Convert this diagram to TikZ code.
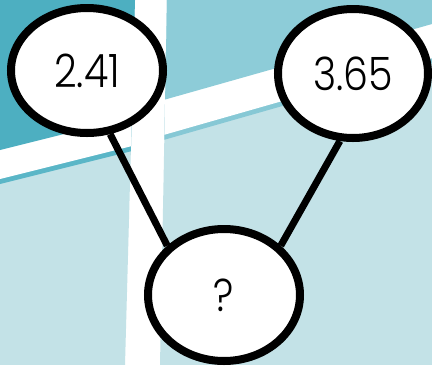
\documentclass[tikz,border=0pt]{standalone}
\usepackage{fontspec}
\setmainfont{Poppins Light}
\usetikzlibrary{shapes.geometric}
\pgfdeclarelayer{bg}
\pgfdeclarelayer{lines}
\pgfsetlayers{bg,lines,main}
\definecolor{darkteal}{HTML}{4DAFC1}
\definecolor{midteal}{HTML}{8DCCD8}
\definecolor{lightteal}{HTML}{C3E2E7}
\definecolor{stripeL}{HTML}{5AB6C7}
\definecolor{stripeR}{HTML}{86C8D5}
\tikzset{
  bubble/.style={ellipse, draw=black, fill=white, line width=8pt, inner sep=0pt,
    font=\fontsize{46}{46}\selectfont},
  link/.style={draw=black, line width=7pt}
}
\newcommand{\numtxt}[1]{\scalebox{0.86}[1]{#1}}
\begin{document}
\begin{tikzpicture}[x=1pt,y=-1pt]
\useasboundingbox (0,0) rectangle (432,365);
\begin{pgfonlayer}{bg}
  \fill[white] (0,0) rectangle (432,365);
  % left panel
  \begin{scope}
    \clip (0,0) -- (135,0) -- (125,365) -- (0,365) -- cycle;
    \fill[lightteal] (0,0) rectangle (200,365);
    \fill[stripeL] (0,-10) -- (200,-10) -- (200,184-50) -- (0,184) -- cycle;
    \fill[white] (0,-10) -- (200,-10) -- (200,179-50) -- (0,179) -- cycle;
    \fill[darkteal] (0,-10) -- (200,-10) -- (200,150-50) -- (0,150) -- cycle;
  \end{scope}
  % right panel
  \begin{scope}
    \clip (167,0) -- (432,0) -- (432,365) -- (160,365) -- cycle;
    \fill[lightteal] (150,0) rectangle (432,365);
    \fill[stripeR] (150,-10) -- (432,-10) -- (432,139-0.286*265) -- (167,139) -- (150,139+0.286*17) -- cycle;
    \fill[white] (150,-10) -- (432,-10) -- (432,134-0.286*265) -- (167,134) -- (150,134+0.286*17) -- cycle;
    \fill[midteal] (150,-10) -- (432,-10) -- (432,99-0.283*265) -- (167,99) -- (150,99+0.283*17) -- cycle;
  \end{scope}
\end{pgfonlayer}
\node[bubble, minimum width=152pt, minimum height=125pt] (a) at (87,70.5) {\numtxt{2.41}};
\node[bubble, minimum width=150pt, minimum height=129pt] (b) at (353,73.5) {\numtxt{3.65}};
\node[bubble, minimum width=152pt, minimum height=132pt] (q) at (224,295) {\numtxt{?}};
\begin{pgfonlayer}{lines}
  \draw[link] (a.-70) -- (q.139);
  \draw[link] (b.-101) -- (q.41);
\end{pgfonlayer}
\end{tikzpicture}
\end{document}
